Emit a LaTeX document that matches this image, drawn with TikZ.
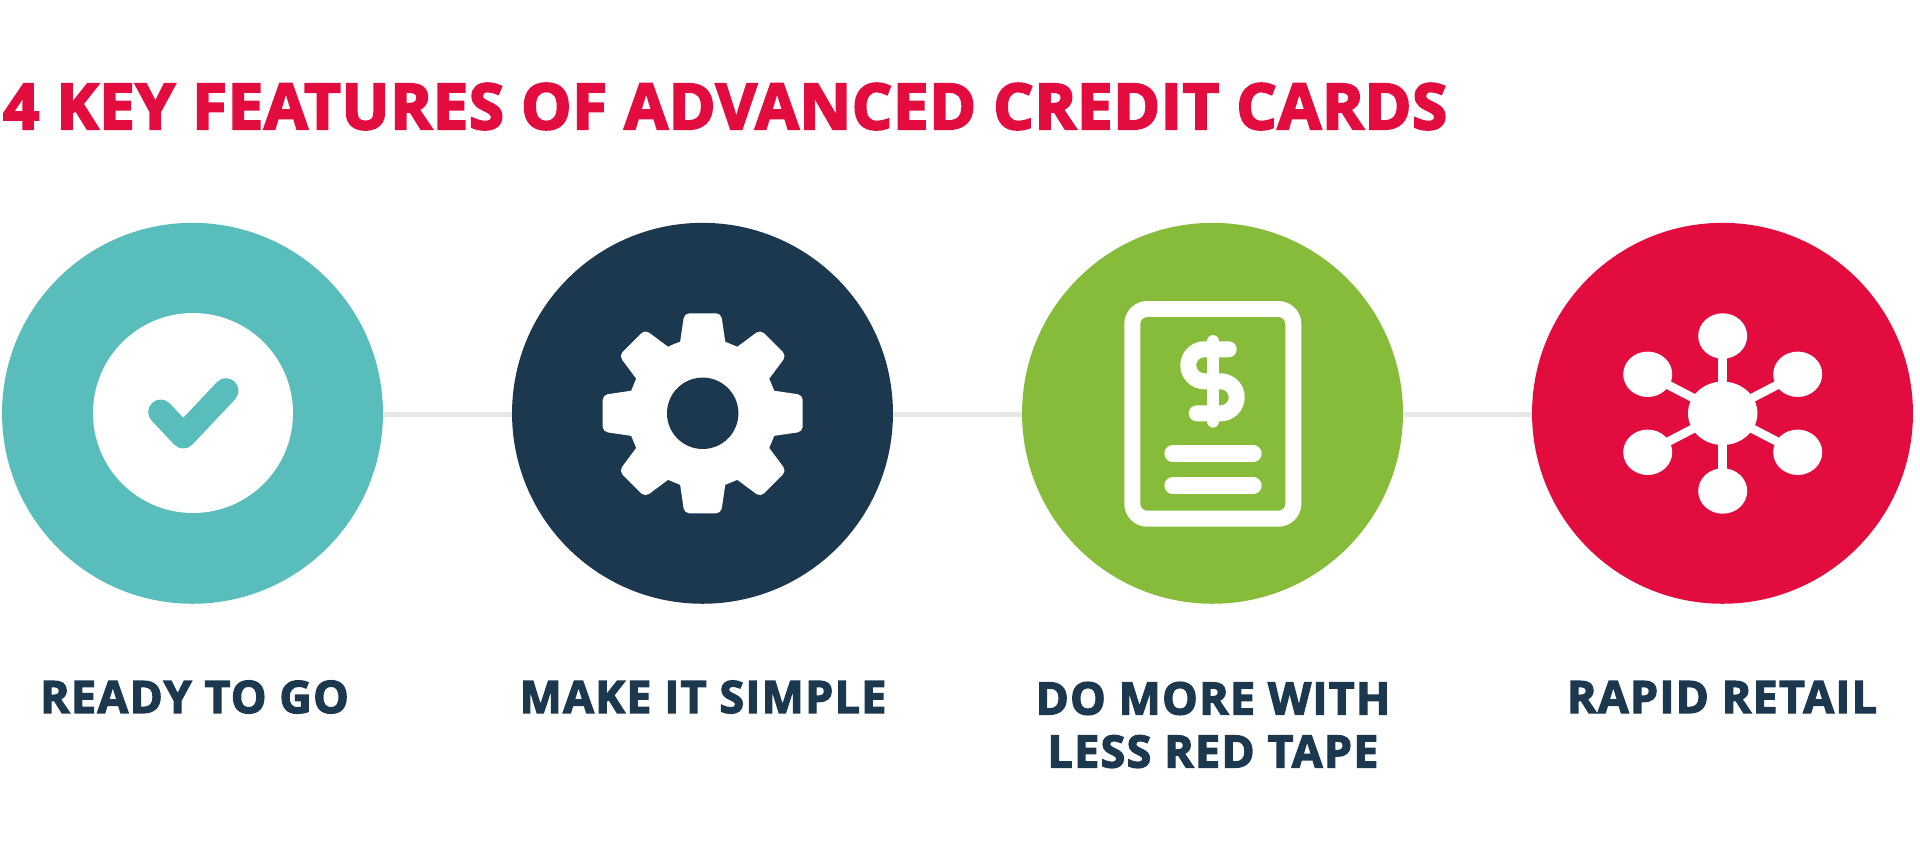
\documentclass[tikz,border=0pt]{standalone}
\usepackage{fontspec}
\usetikzlibrary{calc}
\setmainfont{Open Sans}
\newfontface\titlefont{Open Sans Bold}[LetterSpace=1.3,FakeBold=3.5]
\newfontface\labelfont{Open Sans Bold}[LetterSpace=3.2,FakeBold=3]
\definecolor{tealc}{HTML}{58BDBB}
\definecolor{navyc}{HTML}{1C384F}
\definecolor{greenc}{HTML}{86BC3A}
\definecolor{redc}{HTML}{E30C3F}
\definecolor{linkc}{HTML}{E8E8E8}
\tikzset{
	disc/.style={circle, inner sep=0pt, minimum size=7.62cm},
	caption/.style={text=navyc, font=\labelfont\fontsize{25.4}{30.2}\selectfont, align=center},
	link/.style={linkc, line width=0.1cm},
	rule/.style={white, line width=0.33cm, line cap=round}
}

\begin{document}
\begin{tikzpicture}[x=0.02cm, y=-0.02cm]
		\useasboundingbox (0, 0) rectangle (1920, 851);
		
		\node[anchor=west, text=redc, font=\titlefont\fontsize{36}{40}\selectfont] (title) at (-3, 106.5) {4 KEY FEATURES OF ADVANCED CREDIT CARDS};
		
		\draw [link] (192.5, 414.3) coordinate (linka) -- (1722.5, 414.3) coordinate (linkb);
		
		\node[disc, fill=tealc] (ready) at (192.5, 413.3) {};
		\node[disc, fill=navyc] (make) at (702.5, 413.3) {};
		\node[disc, fill=greenc] (more) at (1212.5, 413.3) {};
		\node[disc, fill=redc] (rapid) at (1722.5, 413.3) {};
		
		% check mark
		\fill [white] (193, 413) circle (100);
		\draw [tealc, line width=0.5cm, line cap=round, line join=round] (160.7, 412) -- (183.3, 436) -- (226, 390.7);
		
		% gear
		\fill [white] ($(702.7, 413.3)+(-112.5:75)$)
			\foreach \a in {-90, -45, 0, 45, 90, 135, 180, 225} {
				-- ($(702.7, 413.3)+(\a-17.5:75)$) [rounded corners=0.1cm]
				-- ($(702.7, 413.3)+(\a-10.4:101.7)$) -- ($(702.7, 413.3)+(\a+10.4:101.7)$) [sharp corners]
				-- ($(702.7, 413.3)+(\a+17.5:75)$)
			} -- cycle;
		\fill [navyc] (702.7, 413.3) circle (35.7);
		
		% document with dollar sign
		\draw [white, line width=0.32cm, rounded corners=0.3cm] (1132.3, 309) rectangle (1293.3, 518.7);
		\draw [rule] (1172.6, 453.7) -- (1253.4, 453.7);
		\draw [rule] (1172.6, 485.7) -- (1253.4, 485.7);
		\draw [white, line width=0.25cm, line cap=round] (1213, 341.3) -- (1213, 421.4);
		\draw [white, line width=0.32cm, line cap=round] (1228.7, 349.3) -- (1204.3, 349.3)
			arc[start angle=-90, end angle=-270, radius=16] -- (1220.7, 381.3)
			arc[start angle=-90, end angle=90, radius=16] -- (1196.7, 413.3);
		
		% network
		\foreach \px/\py in {1722.7/336, 1722.7/491, 1647.7/374.3, 1797.7/374.3, 1647.7/452.3, 1797.7/452.3} {
			\draw [white, line width=0.174cm] (1722.7, 413.3) -- (\px, \py);
			\fill [white] (\px, \py) ellipse [x radius=24.5, y radius=22.7];
		}
		\fill [white] (1722.7, 413.3) ellipse [x radius=34.7, y radius=31.7];
		
		\node[caption] (readytxt) at (194.5, 697) {READY TO GO};
		\node[caption] (maketxt) at (703, 697) {MAKE IT SIMPLE};
		\node[caption] (moretxt) at (1213, 725) {DO MORE WITH\\LESS RED TAPE};
		\node[caption] (rapidtxt) at (1722, 697) {RAPID RETAIL};
		
\end{tikzpicture}
\end{document}
